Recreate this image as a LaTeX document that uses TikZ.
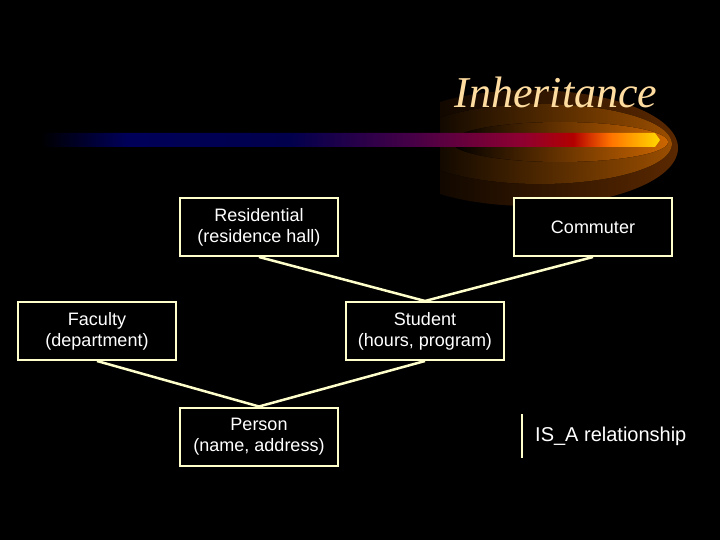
\documentclass[tikz,border=0pt]{standalone}
\usepackage{fontspec}
\setmainfont{Liberation Sans}
\newfontfamily\titlefont{Liberation Serif}
\usepackage{tikz}
\usetikzlibrary{positioning}

\definecolor{cream}{HTML}{FFFFCC}
\definecolor{peach}{HTML}{FFDCA0}
\definecolor{glowdark}{HTML}{5A2800}
\definecolor{glowmid}{HTML}{9A4E00}

\pgfdeclarehorizontalshading{barshade}{100bp}{color(0bp)=(black); color(25bp)=(black);
  color(32bp)=(blue!35!black); color(45bp)=(blue!30!black); color(55bp)=(violet!55!black);
  color(64bp)=(purple!75!black); color(68bp)=(red!70!black); color(71bp)=(orange!90!red);
  color(75bp)=(yellow!70!orange); color(100bp)=(yellow!70!orange)}

\tikzset{
  classbox/.style={draw=cream, line width=2pt, fill=black, text=white,
    minimum width=158pt, minimum height=58pt, align=center,
    font=\fontsize{18}{21}\selectfont},
  isa/.style={draw=cream, line width=2.5pt},
}

\begin{document}
\begin{tikzpicture}[x=1pt,y=-1pt]
			%%%%% START %%%%%
			\useasboundingbox (0,0) rectangle (720,540);
			\fill[black] (0,0) rectangle (720,540);
			
			% glow behind the title
			\begin{scope}
				\clip (440,80) rectangle (720,220);
				\fill[left color=black, right color=glowdark] (530,148) ellipse (148 and 58);
				\fill[left color=black, right color=glowmid] (540,144) ellipse (132 and 40);
				\fill[left color=black, right color=orange!80!black] (560,142) ellipse (108 and 20);
			\end{scope}
			
			% bar
			\shade[shading=barshade] (40,133) -- (655,133) -- (660,140) -- (655,147) -- (40,147) -- cycle;
			
			\node[text=peach, font=\titlefont\itshape\fontsize{44}{48}\selectfont] (title) at (556,92) {Inheritance};
			
			% classes
			\node[classbox] (res) at (259,227) {Residential\\(residence hall)};
			\node[classbox] (com) at (593,227) {Commuter};
			\node[classbox] (fac) at (97,331) {Faculty\\(department)};
			\node[classbox] (stu) at (425,331) {Student\\(hours, program)};
			\node[classbox] (per) at (259,436.5) {Person\\(name, address)};
			
			\draw[isa] (res.south) -- (stu.north);
			\draw[isa] (com.south) -- (stu.north);
			\draw[isa] (fac.south) -- (per.north);
			\draw[isa] (stu.south) -- (per.north);
			
			% legend
			\coordinate (legtop) at (522,414);
			\coordinate (legbot) at (522,458);
			\draw[isa] (legtop) -- (legbot);
			\node[anchor=west, text=white, font=\fontsize{20}{24}\selectfont, inner sep=0pt] (legend) at (535,436) {IS\_A relationship};
			%%%%% END %%%%%
\end{tikzpicture}
\end{document}
